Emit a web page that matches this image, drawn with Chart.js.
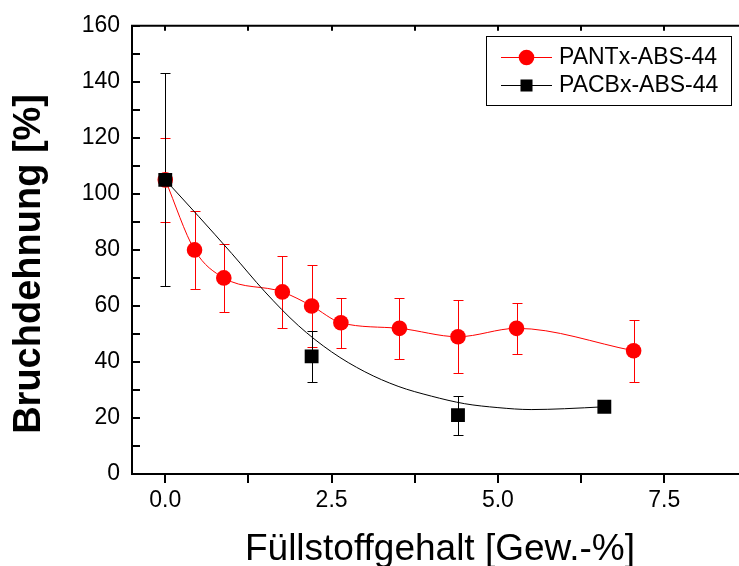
<!DOCTYPE html>
<html>
<head>
<meta charset="utf-8">
<script src="https://cdn.jsdelivr.net/npm/chart.js@4.4.1/dist/chart.umd.min.js"></script>
<style>
  html, body { margin: 0; padding: 0; background: #fff; overflow: hidden; }
  #marco { width: 780px; height: 566px; }
</style>
</head>
<body>
<div id="marco"><canvas id="grafico" width="780" height="566"></canvas></div>
<script>
// Datos
const xPant = [0, 0.44, 0.88, 1.76, 2.2, 2.64, 3.52, 4.4, 5.28, 7.04];
const yPant = [105, 80, 70, 65, 60, 54, 52, 49, 52, 44];
const errPant = [15, 14, 12, 13, 14.5, 9, 11, 13, 9, 11];

const xPacb = [0, 2.2, 4.4, 6.6];
const yPacb = [105, 42, 21, 24];
const errPacb = [38, 9, 7, 0];

// curva de ajuste negra (leída punto a punto)
const xAjuste = [0, 0.5, 1, 1.5, 2, 2.5, 3, 3.5, 4, 4.5, 5, 5.5, 6, 6.6];
const yAjuste = [105, 92, 78.7, 65, 53, 43.6, 36.5, 31.3, 27.8, 25.1, 23.7, 23, 23.3, 24];

const xTicks = [0, 2.5, 5, 7.5];
const yTicks = [0, 20, 40, 60, 80, 100, 120, 140, 160];

const tituloY = 'Bruchdehnung [%]';
const tituloX = 'Füllstoffgehalt [Gew.-%]';

const fuente = "'Liberation Sans', Arial, sans-serif";
const ctx = document.getElementById("grafico").getContext("2d");

const aPuntos = (xs, ys) => xs.map((x, i) => ({ x: x, y: ys[i] }));

// Barras de error
const barrasError = {
  id: 'barrasError',
  beforeDatasetsDraw(chart) {
    const c = chart.ctx;
    const sx = chart.scales.x, sy = chart.scales.y;
    c.save();
    chart.data.datasets.forEach(ds => {
      if (!ds.errores) return;
      c.strokeStyle = ds.borderColor;
      c.lineWidth = 1;
      ds.data.forEach((p, j) => {
        const e = ds.errores[j];
        if (!e) return;
        const px = Math.round(sx.getPixelForValue(p.x)) + 0.5;
        const arriba = Math.round(sy.getPixelForValue(p.y + e)) + 0.5;
        const abajo = Math.round(sy.getPixelForValue(p.y - e)) + 0.5;
        c.beginPath();
        c.moveTo(px, arriba); c.lineTo(px, abajo);
        c.moveTo(px - 5, arriba); c.lineTo(px + 5, arriba);
        c.moveTo(px - 5, abajo); c.lineTo(px + 5, abajo);
        c.stroke();
      });
    });
    c.restore();
  }
};

// Marcas de los ejes (hacia dentro en Y y arriba, hacia fuera abajo) + títulos
const marcas = {
  id: 'marcas',
  afterDraw(chart) {
    const c = chart.ctx;
    const a = chart.chartArea;
    const sx = chart.scales.x, sy = chart.scales.y;
    c.save();
    c.strokeStyle = '#000';
    c.lineWidth = 2;
    c.beginPath();
    c.moveTo(a.left - 1, a.top); c.lineTo(a.right, a.top);
    sy.ticks.forEach(t => {
      const py = Math.round(sy.getPixelForValue(t.value));
      c.moveTo(a.left, py); c.lineTo(a.left + 8, py);
    });
    sx.ticks.forEach(t => {
      const px = Math.round(sx.getPixelForValue(t.value));
      c.moveTo(px, a.bottom); c.lineTo(px, a.bottom + 9);
      c.moveTo(px, a.top); c.lineTo(px, a.top + 5);
    });
    c.stroke();

    c.fillStyle = '#000';
    c.textAlign = 'center';
    c.textBaseline = 'middle';

    // título del eje X
    c.font = "37px " + fuente;
    c.fillText(tituloX, 440, 549.5);

    // título del eje Y, algo desplazado hacia abajo como en el original
    c.translate(30, (a.top + a.bottom) / 2 + 14);
    c.rotate(-Math.PI / 2);
    c.font = "bold 38px " + fuente;
    c.fillText(tituloY, 0, 0);
    c.restore();
  }
};

// Leyenda con línea y símbolo
const leyenda = {
  id: 'leyenda',
  afterDraw(chart) {
    const c = chart.ctx;
    const entradas = chart.data.datasets.filter(ds => ds.enLeyenda);
    c.save();
    c.strokeStyle = '#000';
    c.lineWidth = 1;
    c.strokeRect(486.5, 36.5, 245, 69);
    entradas.forEach((ds, i) => {
      const y = 57 + i * 28;
      c.strokeStyle = ds.borderColor;
      c.lineWidth = 1;
      c.beginPath();
      c.moveTo(501, y + 0.5); c.lineTo(552, y + 0.5);
      c.stroke();
      c.fillStyle = ds.backgroundColor;
      Chart.helpers.drawPoint(c, {
        pointStyle: ds.pointStyle, radius: ds.pointStyle === 'rect' ? 8.5 : 7.8,
        rotation: 0, borderWidth: 0
      }, 526.5, y + 0.5);
      c.fillStyle = '#000';
      c.font = "23px " + fuente;
      c.textAlign = 'left';
      c.textBaseline = 'middle';
      c.fillText(ds.label, 559, y + 1);
    });
    c.restore();
  }
};

new Chart(ctx, {
  type: 'scatter',
  data: {
    datasets: [
      {
        label: 'PANTx-ABS-44',
        data: aPuntos(xPant, yPant),
        errores: errPant,
        enLeyenda: true,
        showLine: true,
        cubicInterpolationMode: 'monotone',
        borderColor: '#ff0000',
        backgroundColor: '#ff0000',
        borderWidth: 1,
        pointStyle: 'circle',
        pointRadius: 7.8,
        pointBorderWidth: 0,
        order: 2
      },
      {
        label: 'Ajuste',
        data: aPuntos(xAjuste, yAjuste),
        showLine: true,
        cubicInterpolationMode: 'monotone',
        borderColor: '#000',
        borderWidth: 1,
        pointRadius: 0,
        order: 1
      },
      {
        label: 'PACBx-ABS-44',
        data: aPuntos(xPacb, yPacb),
        errores: errPacb,
        enLeyenda: true,
        showLine: false,
        borderColor: '#000',
        backgroundColor: '#000',
        pointStyle: 'rect',
        pointRadius: 9.8,
        pointBorderWidth: 0,
        order: 0
      }
    ]
  },
  options: {
    responsive: false,
    animation: false,
    layout: { padding: { top: 24, right: 16, left: 0, bottom: 0 } },
    plugins: {
      legend: { display: false },
      tooltip: { enabled: false }
    },
    scales: {
      x: {
        type: 'linear',
        min: -0.5,
        max: 9,
        afterFit: s => { s.height = 92; },
        grid: { display: false, drawTicks: false },
        border: { display: true, color: '#000', width: 2 },
        ticks: {
          stepSize: 1.25,
          includeBounds: false,
          autoSkip: false,
          maxRotation: 0,
          padding: 13,
          color: '#000',
          font: { family: fuente, size: 23 },
          callback: v => xTicks.some(t => Math.abs(t - v) < 1e-6) ? v.toFixed(1) : ''
        },
        title: { display: false }
      },
      y: {
        min: 0,
        max: 160,
        afterFit: s => { s.width = 132; },
        grid: { display: false, drawTicks: false },
        border: { display: true, color: '#000', width: 2 },
        ticks: {
          stepSize: 10,
          autoSkip: false,
          padding: 12,
          color: '#000',
          font: { family: fuente, size: 23 },
          callback: v => yTicks.includes(v) ? v : ''
        },
        title: { display: false }
      }
    }
  },
  plugins: [barrasError, marcas, leyenda]
});
</script>
</body>
</html>
